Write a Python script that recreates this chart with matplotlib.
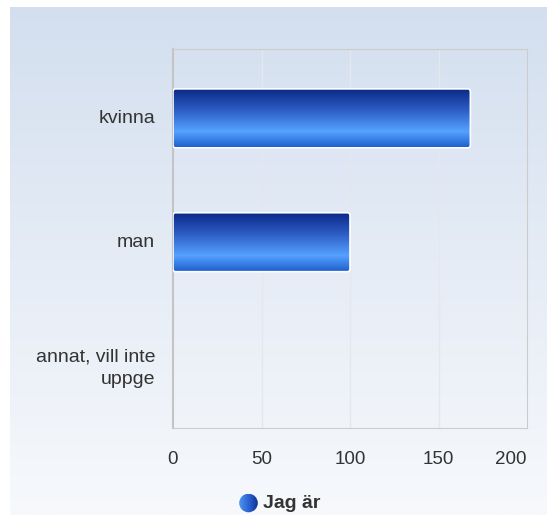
import numpy as np
import matplotlib.pyplot as plt
from matplotlib.colors import LinearSegmentedColormap
from matplotlib.patches import FancyBboxPatch, Circle

categories = ['kvinna', 'man', 'annat, vill inte\nuppge']
values = [168, 100, 0]
x_ticks = [0, 50, 100, 150, 200]
series_name = 'Jag är'

plt.rcParams['font.family'] = ['Liberation Sans', 'DejaVu Sans']

W, H = 547, 515
fig = plt.figure(figsize=(W / 100, H / 100), dpi=100, facecolor='white')

# background gradient panel
bg = fig.add_axes([10 / W, 0, 1 - 10 / W, 1 - 7 / H])
bg_cmap = LinearSegmentedColormap.from_list('bg', ['#d3dfef', '#f7f9fc'])
bg.imshow(np.linspace(0, 1, 256).reshape(-1, 1), aspect='auto', cmap=bg_cmap,
          extent=[0, 1, 0, 1], origin='upper')
bg.axis('off')

left, right, top, bottom = 173, 527, 49, 428
ax = fig.add_axes([left / W, 1 - bottom / H, (right - left) / W, (bottom - top) / H])
ax.patch.set_alpha(0)

bar_cmap = LinearSegmentedColormap.from_list(
    'bar', [(0, '#0a2a88'), (0.35, '#2c5cc4'), (0.72, '#55a2ff'), (1, '#1c5ccc')])
grad = np.linspace(0, 1, 256).reshape(-1, 1)
bar_h = 0.476
for i, v in enumerate(values):
    if v <= 0:
        continue
    patch = FancyBboxPatch((0, i - bar_h / 2), v, bar_h,
                           boxstyle='round,pad=0,rounding_size=1.2',
                           mutation_aspect=0.02,
                           facecolor='none', edgecolor='white', lw=1.2, zorder=4)
    ax.add_patch(patch)
    im = ax.imshow(grad, aspect='auto', cmap=bar_cmap,
                   extent=[0, v, i + bar_h / 2, i - bar_h / 2], zorder=3)
    im.set_clip_path(patch)

ax.set_xlim(0, 200)
ax.set_ylim(2.5, -0.56)
ax.set_aspect('auto')
ax.set_xticks(x_ticks[1:-1])
ax.xaxis.grid(True, color='#e4e8ee', lw=1)
ax.set_xticklabels([])
ax.set_yticks([])
ax.tick_params(length=0)
for s in ax.spines.values():
    s.set_color('#cccccc')
ax.spines['left'].set_color('#c4c4c4')
ax.spines['left'].set_linewidth(1.5)
ax.set_axisbelow(True)

# x tick labels
tick_y = -(459 - bottom) / (bottom - top)
for t in x_ticks:
    ha = 'right' if t == x_ticks[-1] else 'center'
    ax.text(t, tick_y, str(t), transform=ax.get_xaxis_transform(),
            ha=ha, va='center', fontsize=13.5, color='#333333')

# category labels
cat_x = -(left - 155) / (right - left)
for i, c in enumerate(categories):
    y = i + (0.02 if '\n' in c else 0)
    ax.text(cat_x, y, c, transform=ax.get_yaxis_transform(), ha='right', va='center',
            fontsize=14, color='#333333', linespacing=1.45)

# legend: gradient circle + bold label
cx, cy, r = 248.5, 503, 9.5
lax = fig.add_axes([(cx - r) / W, 1 - (cy + r) / H, 2 * r / W, 2 * r / H])
lax.axis('off')
leg_cmap = LinearSegmentedColormap.from_list('leg', ['#4f94f2', '#2a62d0', '#0c2c8c'])
circ = Circle((0.5, 0.5), 0.49, transform=lax.transAxes, facecolor='none', edgecolor='none')
lax.add_patch(circ)
lim = lax.imshow(np.linspace(0, 1, 64).reshape(1, -1), aspect='auto', cmap=leg_cmap,
                 extent=[0, 1, 0, 1])
lim.set_clip_path(circ)
lax.set_xlim(0, 1)
lax.set_ylim(0, 1)
fig.text(263 / W, 1 - 503 / H, series_name, ha='left', va='center',
         fontsize=14, fontweight='bold', color='#333333')

fig.savefig('out.png', dpi=100, facecolor='white')
